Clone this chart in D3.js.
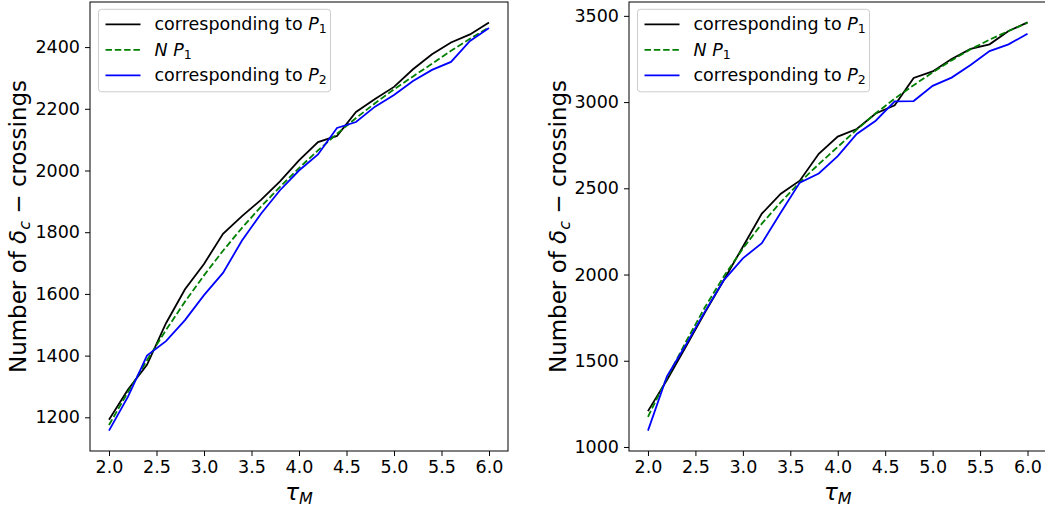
<html>

<head>
    <style>
        body { margin: 0; background: white; }
        text { font-family: "DejaVu Sans", sans-serif; fill: black; }
    </style>
</head>

<body>
    <svg id="container" height="508" width="1045"></svg>
</body>
<script src="https://cdn.jsdelivr.net/npm/d3@7"></script>
<script>
    // tau_M values (x axis)
    let tau = [2.0, 2.2, 2.4, 2.6, 2.8, 3.0, 3.2, 3.4, 3.6, 3.8, 4.0, 4.2, 4.4, 4.6, 4.8, 5.0, 5.2, 5.4, 5.6, 5.8, 6.0]
    let xTicks = [2.0, 2.5, 3.0, 3.5, 4.0, 4.5, 5.0, 5.5, 6.0]

    // left panel
    let leftP1 = [1192, 1290, 1370, 1505, 1615, 1697, 1795, 1852, 1905, 1965, 2033, 2092, 2112, 2190, 2232, 2271, 2328, 2377, 2415, 2441, 2480]
    let leftNP1 = [1175, 1282, 1385, 1483, 1575, 1660, 1740, 1814, 1883, 1947, 2008, 2065, 2119, 2170, 2218, 2263, 2305, 2346, 2388, 2427, 2464]
    let leftP2 = [1157, 1267, 1400, 1447, 1515, 1596, 1668, 1773, 1860, 1936, 2000, 2052, 2138, 2157, 2207, 2245, 2290, 2326, 2352, 2420, 2462]
    let leftYTicks = [1200, 1400, 1600, 1800, 2000, 2200, 2400]

    // right panel
    let rightP1 = [1208, 1388, 1582, 1780, 1968, 2161, 2353, 2469, 2544, 2700, 2800, 2844, 2934, 2981, 3140, 3178, 3250, 3308, 3335, 3412, 3462]
    let rightNP1 = [1175, 1400, 1610, 1810, 1990, 2150, 2295, 2420, 2535, 2640, 2740, 2840, 2935, 3020, 3098, 3172, 3242, 3306, 3362, 3412, 3460]
    let rightP2 = [1095, 1410, 1593, 1785, 1968, 2094, 2182, 2360, 2533, 2586, 2687, 2815, 2892, 3004, 3006, 3094, 3142, 3215, 3296, 3335, 3396]
    let rightYTicks = [1000, 1500, 2000, 2500, 3000, 3500]

    let svg = d3.select("#container")

    let panels = [
        { x0: 90, x1: 508, series: [leftP1, leftNP1, leftP2], yTicks: leftYTicks, labelX: 26 },
        { x0: 629, x1: 1046.5, series: [rightP1, rightNP1, rightP2], yTicks: rightYTicks, labelX: 566 }
    ]
    let axTop = 2, axBottom = 451
    let styles = [
        { color: "black", dash: null },
        { color: "#008000", dash: "6.5,2.8" },
        { color: "blue", dash: null }
    ]

    panels.forEach(drawPanel)

    function drawPanel(p) {
        let x = d3.scaleLinear().domain([1.8, 6.2]).range([p.x0, p.x1])
        let all = p.series.flat()
        let [lo, hi] = d3.extent(all)
        let m = (hi - lo) * 0.05
        let y = d3.scaleLinear().domain([lo - m, hi + m]).range([axBottom, axTop])

        let g = svg.append("g")

        let xAxis = g.append("g")
            .attr("transform", `translate(0,${axBottom})`)
            .call(d3.axisBottom(x).tickValues(xTicks).tickFormat(d3.format(".1f")).tickSize(5).tickPadding(5))
        let yAxis = g.append("g")
            .attr("transform", `translate(${p.x0},0)`)
            .call(d3.axisLeft(y).tickValues(p.yTicks).tickFormat(d3.format("d")).tickSize(5).tickPadding(5))
        ;[xAxis, yAxis].forEach(a => {
            a.select(".domain").remove()
            a.selectAll("text").style("font-size", "17.5px").attr("fill", "black")
            a.selectAll("line").attr("stroke", "black")
        })

        let line = d3.line().x((d, i) => x(tau[i])).y(d => y(d))
        p.series.forEach((s, i) => {
            g.append("path")
                .attr("d", line(s))
                .attr("fill", "none")
                .attr("stroke", styles[i].color)
                .attr("stroke-width", 1.8)
                .attr("stroke-dasharray", styles[i].dash)
        })

        // frame
        g.append("rect")
            .attr("x", p.x0).attr("y", axTop)
            .attr("width", p.x1 - p.x0).attr("height", axBottom - axTop)
            .attr("fill", "none").attr("stroke", "black").attr("stroke-width", 1)

        // legend
        let lg = g.append("g").attr("transform", `translate(${p.x0 + 8.5},${axTop + 7.3})`)
        lg.append("rect")
            .attr("width", 232).attr("height", 82.5).attr("rx", 3)
            .attr("fill", "white").attr("fill-opacity", 0.8)
            .attr("stroke", "#cccccc")
        let names = [
            ["corresponding to ", "P", "1"],
            ["", "N P", "1"],
            ["corresponding to ", "P", "2"]
        ]
        names.forEach((n, i) => {
            let ry = 15 + i * 25.5
            lg.append("line")
                .attr("x1", 7).attr("x2", 42).attr("y1", ry).attr("y2", ry)
                .attr("stroke", styles[i].color).attr("stroke-width", 1.8)
                .attr("stroke-dasharray", styles[i].dash)
            let t = lg.append("text").attr("x", 56).attr("y", ry + 6).style("font-size", "17.5px")
            t.append("tspan").text(n[0])
            t.append("tspan").style("font-style", "italic").text(n[1])
            t.append("tspan").attr("dy", 3).style("font-size", "12.5px").text(n[2])
        })

        // axis labels
        let xl = g.append("text")
            .attr("x", (p.x0 + p.x1) / 2).attr("y", 500)
            .attr("text-anchor", "middle").style("font-size", "23px")
        xl.append("tspan").style("font-style", "italic").text("τ")
        xl.append("tspan").attr("dy", 4).style("font-style", "italic").style("font-size", "16px").text("M")

        let yl = g.append("text")
            .attr("transform", `translate(${p.labelX},${(axTop + axBottom) / 2}) rotate(-90)`)
            .attr("text-anchor", "middle").style("font-size", "23px")
        yl.append("tspan").text("Number of ")
        yl.append("tspan").style("font-style", "italic").text("δ")
        yl.append("tspan").attr("dy", 4).style("font-style", "italic").style("font-size", "16px").text("c")
        yl.append("tspan").attr("dy", -4).text(" − crossings")
    }
</script>

</html>
